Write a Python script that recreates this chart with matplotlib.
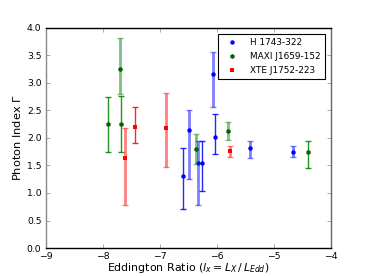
import matplotlib
matplotlib.use("Agg")
import matplotlib.pyplot as plt
import numpy as np

# H 1743-322
h_x = [-6.60, -6.49, -6.32, -6.26, -6.07, -6.03, -5.41, -4.67]
h_y = [1.30, 2.15, 1.54, 1.54, 3.15, 2.01, 1.81, 1.75]
h_up = [0.51, 0.35, 0.41, 0.40, 0.40, 0.43, 0.14, 0.11]
h_lo = [0.59, 0.90, 0.75, 0.51, 0.59, 0.30, 0.18, 0.10]
h_faded = [False, True, True, False, True, False, True, True]

# MAXI J1659-152
m_x = [-7.90, -7.70, -7.68, -6.37, -5.80, -4.40]
m_y = [2.25, 3.25, 2.26, 1.79, 2.12, 1.74]
m_up = [0.50, 0.57, 0.50, 0.28, 0.16, 0.20]
m_lo = [0.50, 0.46, 0.51, 0.27, 0.16, 0.28]
m_faded = [False, True, False, True, True, False]

# XTE J1752-223
x_x = [-7.61, -7.44, -6.89, -5.77]
x_y = [1.64, 2.20, 2.17, 1.76]
x_up = [0.53, 0.36, 0.64, 0.10]
x_lo = [0.86, 0.30, 0.70, 0.11]
x_faded = [True, False, True, True]

labels = ["H 1743-322", "MAXI J1659-152", "XTE J1752-223"]
xticks = [-9, -8, -7, -6, -5, -4]
yticks = [0.0, 0.5, 1.0, 1.5, 2.0, 2.5, 3.0, 3.5, 4.0]

fig = plt.figure(figsize=(3.68, 2.76), dpi=100)
ax = fig.add_axes([0.124, 0.101, 0.775, 0.799])

series = [
    (h_x, h_y, h_up, h_lo, h_faded, "#0000ff", "#0000ff", "o", 3.2),
    (m_x, m_y, m_up, m_lo, m_faded, "#006400", "#008000", "h", 3.6),
    (x_x, x_y, x_up, x_lo, x_faded, "#ff0000", "#ff0000", "s", 3.2),
]

for (xs, ys, up, lo, fd, mc, ec, mk, ms), lab in zip(series, labels):
    xs = np.array(xs); ys = np.array(ys); up = np.array(up); lo = np.array(lo)
    fd = np.array(fd)
    for mask, lw, al in [(fd, 2.0, 0.5), (~fd, 1.0, 0.85)]:
        if mask.any():
            ax.errorbar(xs[mask], ys[mask], yerr=[lo[mask], up[mask]], fmt="none",
                        ecolor=ec, elinewidth=lw, capsize=2, capthick=1.0, alpha=al)
    ax.plot(xs, ys, linestyle="none", marker=mk, color=mc, markersize=ms,
            markeredgewidth=0, label=lab)

ax.set_xlim(-9, -4)
ax.set_ylim(0, 4)
ax.set_xticks(xticks)
ax.set_yticks(yticks)
ax.set_xticklabels(["\u22129", "\u22128", "\u22127", "\u22126", "\u22125", "\u22124"])
ax.set_yticklabels(["%.1f" % v for v in yticks])
ax.tick_params(direction="in", top=True, right=True, labelsize=6.7, length=3,
               width=0.6, colors="#999999", labelcolor="black", pad=3)
ax.tick_params(axis="x", pad=2.5)
for sp in ax.spines.values():
    sp.set_linewidth(1.0)
ax.spines["left"].set_color("#888888")
ax.spines["right"].set_color("#666666")

ax.set_xlabel(r"Eddington Ratio ($l_x = L_X\,/\,L_{Edd}$)", fontsize=7.9, labelpad=0)
ax.set_ylabel(r"Photon Index $\Gamma$", fontsize=8.2, labelpad=3)

leg = ax.legend(loc="upper right", numpoints=1, fontsize=6.4, fancybox=False,
                framealpha=1, edgecolor="black", borderaxespad=0.7,
                handlelength=2.2, handletextpad=0.9, borderpad=0.5,
                labelspacing=0.55)
leg.get_frame().set_linewidth(0.8)

fig.savefig("out.png", dpi=100)
